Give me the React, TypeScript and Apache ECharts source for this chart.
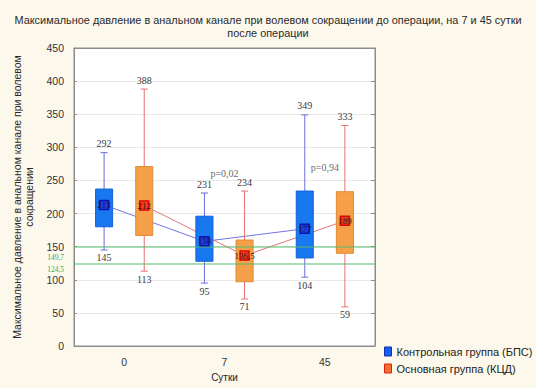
import React, { useEffect, useRef } from 'react';
import * as echarts from 'echarts';

// Days after surgery
const days = ['0', '7', '45'];

// Control group (БПС): whisker ends, box edges, mean
const controlMax = [292, 231, 349];
const controlQ3 = [237, 196, 234];
const controlMean = [213, 158, 177];
const controlQ1 = [180, 128, 133];
const controlMin = [145, 95, 104];

// Main group (КЦД)
const mainMax = [388, 234, 333];
const mainQ3 = [271, 160, 233];
const mainMean = [212, 136.5, 189];
const mainQ1 = [167, 97, 140];
const mainMin = [113, 71, 59];

// Reference levels and p-value notes
const referenceLevels = [149.7, 124.5];
const pValues = ['', 'p=0,02', 'p=0,94'];
const pValueAnchor = [0, 260, 270];

const controlName = 'Контрольная группа (БПС)';
const mainName = 'Основная группа (КЦД)';

const SANS = '"Liberation Sans", Arial, sans-serif';
const SERIF = '"Liberation Serif", "Times New Roman", serif';
const GROUP_SHIFT = 0.2;
const BOX_WIDTH = 0.17;
const X_MIN = -0.5;
const X_MAX = 2.5;
const Y_STEP = 50;

const fmt = (v: number) => String(v).replace('.', ',');

type Palette = { fill: string; border: string; whisker: string };

function boxSeries(name: string, mins: number[], q1s: number[], q3s: number[], maxs: number[], shift: number, pal: Palette) {
  const data = days.map((_, i) => [i, mins[i], q1s[i], q3s[i], maxs[i]]);
  return {
    type: 'custom',
    name,
    xAxisIndex: 1,
    yAxisIndex: 0,
    z: 3,
    data,
    encode: { x: 0, y: [1, 2, 3, 4] },
    renderItem: (_params: any, api: any) => {
      const x = (api.value(0) as number) + shift;
      const vMin = api.value(1) as number;
      const q1 = api.value(2) as number;
      const q3 = api.value(3) as number;
      const vMax = api.value(4) as number;
      const pMax = api.coord([x, vMax]);
      const pMin = api.coord([x, vMin]);
      const pQ3 = api.coord([x, q3]);
      const pQ1 = api.coord([x, q1]);
      const bw = api.size([BOX_WIDTH, 0])[0];
      const cap = 3.5;
      const ws = { stroke: pal.whisker, lineWidth: 1 };
      return {
        type: 'group',
        children: [
          { type: 'line', shape: { x1: pMax[0], y1: pMax[1], x2: pMin[0], y2: pMin[1] }, style: ws },
          { type: 'line', shape: { x1: pMax[0] - cap, y1: pMax[1], x2: pMax[0] + cap, y2: pMax[1] }, style: ws },
          { type: 'line', shape: { x1: pMin[0] - cap, y1: pMin[1], x2: pMin[0] + cap, y2: pMin[1] }, style: ws },
          {
            type: 'rect',
            shape: { x: pQ3[0] - bw / 2, y: pQ3[1], width: bw, height: pQ1[1] - pQ3[1] },
            style: { fill: pal.fill, stroke: pal.border, lineWidth: 1 },
          },
          {
            type: 'text', x: pMax[0], y: pMax[1] - 4,
            style: { text: fmt(vMax), align: 'center', verticalAlign: 'bottom', fontFamily: SERIF, fontSize: 10, fill: '#3a3a3a' },
          },
          {
            type: 'text', x: pMin[0], y: pMin[1] + 3,
            style: { text: fmt(vMin), align: 'center', verticalAlign: 'top', fontFamily: SERIF, fontSize: 10, fill: '#3a3a3a' },
          },
        ],
      };
    },
  };
}

// Horizontal reference levels spanning the plot; the value is printed left of
// the axis, tucked next to the nearest tick label so the two do not collide
function referenceSeries() {
  return {
    type: 'custom',
    xAxisIndex: 1,
    yAxisIndex: 0,
    z: 4,
    silent: true,
    data: referenceLevels.map((v) => [v]),
    encode: { y: 0 },
    renderItem: (_params: any, api: any) => {
      const v = api.value(0) as number;
      const a = api.coord([X_MIN, v]);
      const b = api.coord([X_MAX, v]);
      const tickY = api.coord([X_MIN, Math.round(v / Y_STEP) * Y_STEP])[1];
      const textY = tickY <= a[1] ? tickY + 10.5 : tickY - 10;
      return {
        type: 'group',
        children: [
          {
            type: 'rect',
            shape: { x: a[0], y: Math.round(a[1]) - 0.5, width: b[0] - a[0], height: 1 },
            style: { fill: '#52bb6e', stroke: 'none' },
          },
          {
            type: 'text', x: a[0] - 10, y: textY,
            style: { text: fmt(v), align: 'right', verticalAlign: 'middle', fontFamily: SERIF, fontSize: 7.5, fill: '#3aa856' },
          },
        ],
      };
    },
  };
}

function meanLine(means: number[], shift: number, color: string) {
  return {
    type: 'line',
    xAxisIndex: 1,
    yAxisIndex: 0,
    z: 2,
    symbol: 'none',
    lineStyle: { color, width: 1 },
    data: means.map((m, i) => [i + shift, m]),
  };
}

function meanMarkers(means: number[], shift: number, fill: string, border: string) {
  return {
    type: 'scatter',
    xAxisIndex: 1,
    yAxisIndex: 0,
    z: 5,
    symbol: 'rect',
    symbolSize: 9,
    itemStyle: { color: fill, borderColor: border, borderWidth: 1.5, opacity: 1 },
    label: {
      show: true,
      position: 'inside',
      formatter: (p: any) => fmt(p.value[1]),
      fontFamily: SERIF,
      fontSize: 9,
      color: '#2a1a1a',
    },
    data: means.map((m, i) => [i + shift, m]),
  };
}

export default function App() {
  const ref = useRef<HTMLDivElement>(null);

  useEffect(() => {
    if (!ref.current) return;
    const chart = echarts.init(ref.current, undefined, { renderer: 'svg' });
    chart.setOption({
      animation: false,
      backgroundColor: '#fcf8ec',
      title: {
        text: 'Максимальное давление в анальном канале при волевом сокращении до операции, на 7 и 45 сутки\nпосле операции',
        left: 'center',
        top: 8,
        textStyle: { fontFamily: SANS, fontSize: 10.9, fontWeight: 'normal', color: '#2a2a2a', lineHeight: 13 },
      },
      legend: {
        orient: 'vertical',
        left: 379,
        top: 341,
        itemWidth: 7,
        itemHeight: 9,
        itemGap: 6,
        textStyle: { fontFamily: SANS, fontSize: 11, color: '#222' },
        data: [
          { name: controlName, icon: 'rect', itemStyle: { color: '#1a5cf0', borderColor: '#1030b0', borderWidth: 1 } },
          { name: mainName, icon: 'rect', itemStyle: { color: '#f07030', borderColor: '#e02010', borderWidth: 1 } },
        ],
      },
      grid: {
        left: 74,
        right: 161,
        top: 48,
        bottom: 42,
        show: true,
        backgroundColor: '#ffffff',
        borderColor: '#8c8c8c',
        borderWidth: 1,
      },
      xAxis: [
        {
          type: 'category',
          data: days,
          position: 'bottom',
          name: 'Сутки',
          nameLocation: 'middle',
          nameGap: 26,
          nameTextStyle: { fontFamily: SANS, fontSize: 10, color: '#222' },
          axisLine: { onZero: false, lineStyle: { color: '#8c8c8c' } },
          axisTick: { inside: true, alignWithLabel: true, length: 4, lineStyle: { color: '#8c8c8c' } },
          axisLabel: { fontFamily: SANS, fontSize: 10.5, color: '#333', margin: 10 },
        },
        {
          type: 'value',
          min: X_MIN,
          max: X_MAX,
          show: false,
          axisLine: { show: false, onZero: false },
          splitLine: { show: false },
        },
        {
          type: 'category',
          data: days,
          position: 'top',
          axisLine: { onZero: false, lineStyle: { color: '#8c8c8c' } },
          axisTick: { inside: true, alignWithLabel: true, length: 4, lineStyle: { color: '#8c8c8c' } },
          axisLabel: { show: false },
        },
      ],
      yAxis: [
        {
          type: 'value',
          min: 0,
          max: 450,
          interval: Y_STEP,
          name: 'Максимальное давление в анальном канале при волевом\nсокращении',
          nameLocation: 'middle',
          nameGap: 39,
          nameTextStyle: { fontFamily: SANS, fontSize: 10.5, color: '#2a2a2a', lineHeight: 12 },
          axisLine: { show: true, onZero: false, lineStyle: { color: '#8c8c8c' } },
          axisTick: { show: true, inside: true, length: 3, lineStyle: { color: '#8c8c8c' } },
          axisLabel: { fontFamily: SANS, fontSize: 10.5, color: '#333', margin: 10 },
          splitLine: { lineStyle: { color: '#e8e8e8' } },
        },
        {
          type: 'value',
          min: 0,
          max: 450,
          interval: Y_STEP,
          position: 'right',
          axisLine: { show: true, onZero: false, lineStyle: { color: '#8c8c8c' } },
          axisTick: { show: true, inside: true, length: 4, lineStyle: { color: '#8c8c8c' } },
          axisLabel: { show: false },
          splitLine: { show: false },
        },
      ],
      series: [
        meanLine(controlMean, -GROUP_SHIFT, '#7474e0'),
        meanLine(mainMean, GROUP_SHIFT, '#e47676'),
        boxSeries(controlName, controlMin, controlQ1, controlQ3, controlMax, -GROUP_SHIFT, {
          fill: '#1878f0', border: '#1460d8', whisker: '#6c6ce0',
        }),
        boxSeries(mainName, mainMin, mainQ1, mainQ3, mainMax, GROUP_SHIFT, {
          fill: '#f5a048', border: '#e08a34', whisker: '#e87070',
        }),
        referenceSeries(),
        meanMarkers(controlMean, -GROUP_SHIFT, '#1a3ce8', '#0a14a8'),
        meanMarkers(mainMean, GROUP_SHIFT, '#ff3a14', '#d40a0a'),
        {
          type: 'scatter',
          xAxisIndex: 1,
          yAxisIndex: 0,
          z: 6,
          symbolSize: 0,
          label: {
            show: true,
            position: 'inside',
            formatter: (p: any) => p.name,
            fontFamily: SERIF,
            fontSize: 10,
            color: '#3a3a3a',
          },
          data: pValues
            .map((t, i) => ({ name: t, value: [i, pValueAnchor[i]] }))
            .filter((d) => d.name !== ''),
        },
      ],
    });
    return () => chart.dispose();
  }, []);

  return <div ref={ref} style={{ position: 'absolute', left: 0, top: 0, width: 536, height: 388 }} />;
}
